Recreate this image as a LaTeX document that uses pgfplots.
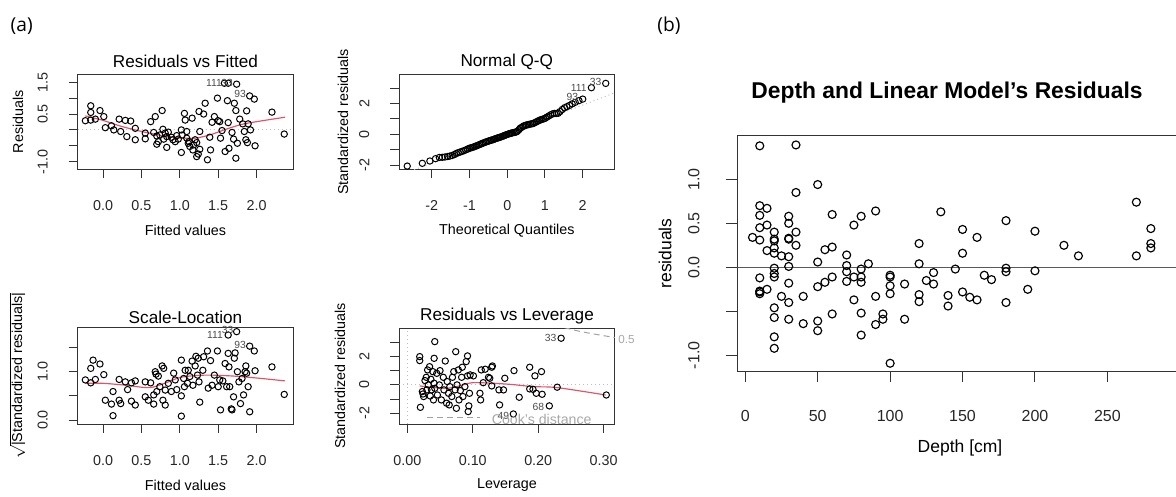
\documentclass[border=0pt]{standalone}
\usepackage{fontspec}
\setmainfont{Liberation Sans}
\newfontfamily\labfont{Open Sans}
\usepackage{pgfplots}
\pgfplotsset{compat=1.18}
\definecolor{loess}{HTML}{DF536B}
\definecolor{rgray}{HTML}{BEBEBE}
\definecolor{lgray}{HTML}{A8A8A8}
\newcommand{\fs}[1]{\fontsize{#1}{#1}\selectfont}

\pgfplotsset{
  rplot/.style={
    scale only axis, anchor=south west,
    axis line style={black!80,line width=0.6pt},
    tick style={black!80,line width=0.6pt},
    tick align=outside, tick pos=left, major tick length=5.4pt,
    ticklabel style={font=\fs{8.6},text=black!85},
    scaled ticks=false,
  },
  smallticks/.style={
    xticklabel style={anchor=center,yshift=-16.4pt},
    yticklabel style={anchor=center,xshift=-15.6pt,rotate=90},
  },
  pts/.style={only marks, mark=o, mark size=1.9pt, black, mark options={line width=0.6pt}},
  redline/.style={no marks, loess, line width=0.7pt, smooth},
  dotline/.style={no marks, rgray, line width=0.6pt, dash pattern=on 0.6pt off 1.8pt},
}

\begin{document}
\begin{tikzpicture}
\useasboundingbox (0,0) rectangle (705.6pt,-297.6pt);

% Residuals vs Fitted
\begin{axis}[rplot, smallticks, at={(46.62pt,-101.58pt)}, width=129.36pt, height=57.18pt,
  xmin=-0.33, xmax=2.478, ymin=-1.24, ymax=1.76,
  xtick={0,0.5,1,1.5,2}, xticklabels={0.0,0.5,1.0,1.5,2.0},
  ytick={-1,-0.5,0,0.5,1,1.5}, yticklabels={-1.0,,,0.5,,1.5}]
\addplot[dotline] coordinates {(-0.33,0)(2.478,0)};
\addplot[redline] coordinates {(-0.23,0.44)(0.0,0.30)(0.2,0.14)(0.4,0.01)(0.6,-0.10)(0.8,-0.19)(1.0,-0.25)(1.2,-0.26)(1.4,-0.15)(1.6,0.02)(1.8,0.17)(2.0,0.26)(2.37,0.40)};
\addplot[pts] coordinates {
(-0.23,0.29)(-0.16,0.76)(-0.16,0.55)(-0.16,0.31)(-0.10,0.34)(-0.04,0.61)(0.01,0.42)(0.03,0.07)
(0.11,0.13)(0.14,0.0)(0.21,0.34)(0.23,-0.05)(0.29,0.30)(0.31,-0.21)(0.36,0.28)(0.42,0.05)
(0.42,-0.31)(0.55,-0.10)(0.55,-0.28)(0.62,0.26)(0.66,-0.08)(0.68,0.42)(0.70,-0.45)(0.72,-0.37)
(0.74,-0.16)(0.77,0.61)(0.78,0.02)(0.79,-0.29)(0.81,-0.10)(0.83,-0.55)(0.85,-0.07)(0.89,-0.23)
(0.94,-0.37)(0.96,-0.18)(1.02,0.0)(1.02,-0.71)(1.06,0.52)(1.07,0.31)(1.09,-0.26)(1.11,-0.42)
(1.13,-0.52)(1.16,0.37)(1.17,-0.63)(1.20,-0.31)(1.22,-0.84)(1.24,-0.76)(1.25,0.58)(1.26,-0.05)
(1.26,-0.61)(1.31,0.50)(1.33,0.84)(1.36,-0.94)(1.39,-0.23)(1.40,-0.63)(1.42,0.24)(1.45,0.42)
(1.49,1.00)(1.50,0.29)(1.52,0.26)(1.53,-0.26)(1.55,-0.02)(1.58,1.47)(1.59,-0.68)(1.62,0.92)
(1.63,1.47)(1.63,0.23)(1.64,-0.58)(1.68,-0.08)(1.70,-0.29)(1.71,0.84)(1.73,-0.89)(1.73,0.61)
(1.74,1.44)(1.75,-0.42)(1.78,0.34)(1.82,0.19)(1.84,-0.05)(1.86,-0.31)(1.87,0.60)(1.88,-0.40)
(1.89,0.19)(1.91,1.07)(1.92,0.0)(1.97,0.97)(1.98,-0.50)(2.20,0.56)(2.36,-0.13)
(0.70,-0.19)(0.83,-0.21)(0.91,-0.31)(0.98,-0.29)(1.03,-0.16)(1.09,-0.05)(1.12,-0.37)(1.18,-0.47)(1.22,-0.40)};
\end{axis}

% Normal Q-Q
\begin{axis}[rplot, smallticks, at={(239.58pt,-101.58pt)}, width=129.3pt, height=57.18pt,
  xmin=-2.86, xmax=2.85, ymin=-2.27, ymax=3.92,
  xtick={-2,-1,0,1,2}, xticklabels={-2,-1,0,1,2},
  ytick={-2,-1,0,1,2,3}, yticklabels={-2,,0,,2,}]
\addplot[dotline] coordinates {(-2.86,-2.67)(2.85,2.70)};
\addplot[pts] coordinates {
(-2.65,-2.06)(-2.25,-1.88)(-2.05,-1.73)(-1.90,-1.58)(-1.80,-1.50)(-1.72,-1.49)(-1.65,-1.47)(-1.58,-1.44)
(-1.52,-1.41)(-1.46,-1.37)(-1.40,-1.31)(-1.35,-1.24)(-1.30,-1.19)(-1.25,-1.15)(-1.20,-1.11)(-1.15,-1.06)
(-1.10,-1.01)(-1.05,-0.96)(-1.01,-0.91)(-0.97,-0.88)(-0.93,-0.85)(-0.89,-0.82)(-0.85,-0.78)(-0.81,-0.74)
(-0.77,-0.70)(-0.73,-0.66)(-0.69,-0.62)(-0.66,-0.58)(-0.62,-0.55)(-0.58,-0.51)(-0.55,-0.48)(-0.51,-0.45)
(-0.48,-0.42)(-0.44,-0.39)(-0.41,-0.37)(-0.37,-0.34)(-0.34,-0.31)(-0.31,-0.28)(-0.27,-0.25)(-0.24,-0.22)
(-0.21,-0.20)(-0.18,-0.18)(-0.14,-0.14)(-0.11,-0.11)(-0.08,-0.08)(-0.05,-0.05)(-0.02,-0.02)(0.02,0.01)
(0.05,0.04)(0.08,0.06)(0.11,0.08)(0.14,0.10)(0.18,0.12)(0.21,0.14)(0.24,0.16)(0.27,0.20)
(0.31,0.30)(0.34,0.39)(0.37,0.44)(0.41,0.50)(0.44,0.55)(0.48,0.58)(0.51,0.61)(0.55,0.63)
(0.58,0.65)(0.62,0.67)(0.66,0.69)(0.69,0.71)(0.73,0.76)(0.77,0.81)(0.81,0.86)(0.85,0.91)
(0.89,0.95)(0.93,0.98)(0.97,1.01)(1.01,1.05)(1.05,1.12)(1.10,1.19)(1.15,1.27)(1.20,1.33)
(1.25,1.36)(1.30,1.36)(1.35,1.37)(1.40,1.48)(1.46,1.62)(1.52,1.73)(1.58,1.80)(1.65,1.88)
(1.72,1.98)(1.80,2.08)(1.90,2.19)(2.00,2.29)(2.23,3.03)(2.61,3.31)};
\end{axis}

% Scale-Location
\begin{axis}[rplot, smallticks, at={(46.62pt,-254.4pt)}, width=129.36pt, height=58.02pt,
  xmin=-0.33, xmax=2.478, ymin=-0.083, ymax=1.92,
  xtick={0,0.5,1,1.5,2}, xticklabels={0.0,0.5,1.0,1.5,2.0},
  ytick={0,0.5,1,1.5}, yticklabels={0.0,,1.0,}]
\addplot[redline] coordinates {(-0.23,0.76)(0.0,0.76)(0.3,0.72)(0.6,0.67)(0.8,0.76)(1.0,0.88)(1.2,0.92)(1.4,0.93)(1.7,0.91)(2.0,0.87)(2.37,0.81)};
\addplot[pts] coordinates {
(-0.23,0.83)(-0.16,1.07)(-0.16,0.77)(-0.13,1.24)(-0.10,0.84)(-0.04,1.16)(0.01,0.94)(0.03,0.41)
(0.11,0.33)(0.13,0.59)(0.13,0.09)(0.21,0.84)(0.21,0.41)(0.23,0.34)(0.29,0.79)(0.32,0.63)
(0.37,0.77)(0.37,0.39)(0.42,0.81)(0.42,0.31)(0.55,0.79)(0.55,0.48)(0.59,0.41)(0.62,0.77)
(0.66,0.52)(0.66,0.33)(0.68,1.00)(0.69,0.95)(0.70,0.59)(0.72,0.91)(0.74,0.69)(0.77,1.12)
(0.79,1.07)(0.78,0.41)(0.81,0.62)(0.81,0.31)(0.85,0.76)(0.89,0.59)(0.92,0.97)(0.94,0.83)
(0.96,0.63)(1.02,1.24)(1.02,0.50)(1.02,0.08)(1.05,0.86)(1.06,0.69)(1.07,1.03)(1.10,0.76)
(1.11,1.03)(1.13,0.90)(1.16,1.22)(1.17,0.72)(1.20,1.12)(1.21,1.32)(1.23,0.93)(1.24,1.28)
(1.25,0.79)(1.26,0.37)(1.30,1.03)(1.31,1.31)(1.36,1.43)(1.37,0.66)(1.40,1.23)(1.42,0.72)
(1.45,0.93)(1.49,1.43)(1.50,0.69)(1.52,0.83)(1.53,0.21)(1.56,0.81)(1.59,1.17)(1.61,0.69)
(1.63,1.76)(1.63,1.38)(1.64,1.10)(1.65,0.69)(1.67,0.23)(1.68,0.21)(1.70,0.48)(1.71,1.28)
(1.72,1.39)(1.74,1.83)(1.75,1.00)(1.77,0.79)(1.79,0.34)(1.81,0.86)(1.83,0.52)(1.85,1.00)
(1.86,1.12)(1.87,0.97)(1.89,0.69)(1.91,1.53)(1.91,0.17)(1.97,1.43)(1.98,1.02)(2.20,1.10)(2.36,0.53)};
\end{axis}

% Residuals vs Leverage
\begin{axis}[rplot, smallticks, at={(239.58pt,-254.4pt)}, width=129.3pt, height=57.42pt,
  xmin=-0.0122, xmax=0.317, ymin=-2.76, ymax=4.0,
  xtick={0,0.1,0.2,0.3}, xticklabels={0.00,0.10,0.20,0.30},
  ytick={-2,-1,0,1,2,3}, yticklabels={-2,,0,,2,}]
\addplot[dotline] coordinates {(-0.0122,0)(0.317,0)};
\addplot[dotline] coordinates {(0,-2.76)(0,4.0)};
\addplot[no marks, rgray!85!black, line width=0.6pt, dash pattern=on 3.6pt off 2.4pt, smooth] coordinates {(0.24,4.05)(0.26,3.82)(0.28,3.64)(0.30,3.48)(0.317,3.35)};
\addplot[redline] coordinates {(0.019,-0.07)(0.04,-0.18)(0.06,-0.24)(0.075,-0.12)(0.085,0.0)(0.10,0.16)(0.131,0.12)(0.16,0.03)(0.192,-0.12)(0.229,-0.19)(0.303,-0.71)};
\addplot[pts] coordinates {
(0.019,2.00)(0.019,1.72)(0.020,-1.58)(0.023,-0.47)(0.024,-0.64)(0.025,-0.82)(0.027,0.31)(0.029,0.54)
(0.030,-0.35)(0.031,1.06)(0.032,0.00)(0.034,1.29)(0.035,-0.78)(0.036,0.40)(0.037,-0.35)(0.039,0.94)
(0.040,-1.06)(0.041,1.88)(0.041,0.12)(0.042,3.06)(0.042,-0.24)(0.045,0.82)(0.046,-0.71)(0.049,0.00)
(0.050,1.01)(0.052,-1.06)(0.055,0.54)(0.056,-0.35)(0.058,1.69)(0.060,-1.29)(0.061,0.24)(0.063,-0.59)
(0.064,-1.41)(0.065,-0.12)(0.068,-0.82)(0.069,0.54)(0.071,0.94)(0.073,-0.35)(0.074,2.35)(0.075,-1.65)
(0.076,0.00)(0.078,1.06)(0.079,-1.06)(0.081,-0.40)(0.083,0.54)(0.084,1.25)(0.085,-0.82)(0.088,-0.12)
(0.090,1.65)(0.092,2.05)(0.092,0.64)(0.093,-1.88)(0.094,-1.48)(0.095,-0.59)(0.096,0.71)(0.101,0.64)
(0.111,-0.59)(0.112,-1.06)(0.113,1.06)(0.116,0.16)(0.119,1.11)(0.124,0.54)(0.126,0.47)(0.129,1.25)
(0.130,1.34)(0.129,-0.07)(0.140,-0.35)(0.141,-1.41)(0.147,-0.35)(0.149,0.47)(0.162,-2.05)(0.163,1.01)
(0.171,-0.87)(0.187,1.25)(0.187,-0.28)(0.192,-0.31)(0.195,0.64)(0.197,-0.59)(0.205,0.94)(0.206,-0.66)
(0.217,-1.48)(0.229,-0.16)(0.235,3.30)(0.304,-0.71)};
\end{axis}

% Depth vs residuals
\begin{axis}[rplot, at={(442.38pt,-222.6pt)}, width=267.24pt, height=141.18pt,
  xmin=-5.5, xmax=302, ymin=-1.178, ymax=1.495,
  major tick length=6.6pt, ticklabel style={font=\fs{9.6}},
  xticklabel style={anchor=center,yshift=-20.4pt},
  yticklabel style={anchor=center,xshift=-19.4pt,rotate=90},
  xtick={0,50,100,150,200,250}, xticklabels={0,50,100,150,200,250},
  ytick={-1,-0.5,0,0.5,1}, yticklabels={-1.0,,0.0,0.5,1.0}]
\addplot[no marks, black!65, line width=0.8pt] coordinates {(-5.5,0)(302,0)};
\addplot[only marks, mark=o, mark size=2.4pt, black, mark options={line width=0.7pt}] coordinates {
(10,1.38)(35,1.39)(50,0.94)(35,0.85)(10,0.70)(15,0.67)(10,0.59)(30,0.58)(30,0.50)(10,0.45)
(15,0.48)(20,0.40)(35,0.40)(5,0.34)(10,0.31)(20,0.32)(20,0.30)(30,0.33)(30,0.32)(35,0.25)
(15,0.19)(20,0.22)(20,0.16)(25,0.13)(30,0.12)(30,0.01)(20,-0.01)(20,-0.07)(20,-0.11)(10,-0.12)
(30,-0.18)(15,-0.25)(10,-0.27)(10,-0.28)(10,-0.30)(25,-0.33)(30,-0.40)(40,-0.33)(20,-0.46)(20,-0.57)
(30,-0.59)(40,-0.64)(50,-0.61)(50,-0.72)(20,-0.79)(20,-0.92)(50,0.06)(50,-0.22)(55,0.20)(60,0.23)
(60,0.60)(55,-0.17)(60,-0.11)(60,-0.53)(70,0.14)(70,0.02)(70,-0.05)(70,-0.16)(75,0.48)(75,-0.11)
(75,-0.37)(80,0.58)(80,-0.02)(80,-0.11)(80,-0.17)(80,-0.52)(80,-0.77)(85,0.04)(90,0.64)(90,-0.33)
(90,-0.65)(95,-0.53)(95,-0.59)(100,-0.09)(100,-0.11)(100,-0.21)(100,-0.30)(100,-1.09)(110,-0.19)(110,-0.59)
(120,0.27)(120,0.04)(120,-0.31)(120,-0.39)(125,-0.15)(130,-0.06)(130,-0.19)(135,0.63)(140,-0.32)(140,-0.44)
(145,-0.02)(150,0.43)(150,0.16)(150,-0.28)(155,-0.34)(160,0.34)(160,-0.37)(165,-0.09)(170,-0.14)(180,0.53)
(180,-0.01)(180,-0.05)(180,-0.40)(195,-0.25)(200,0.41)(200,-0.04)(220,0.25)(230,0.13)(270,0.74)(270,0.13)
(280,0.44)(280,0.27)(280,0.22)};
\end{axis}

\begin{scope}[x=0.6pt,y=-0.6pt]
\node[font=\labfont\fs{11.5}] at (21.7,25.8) {(a)};
\node[font=\labfont\fs{11.5}] at (669,25.8) {(b)};
% titles
\node[font=\fs{10.3}] at (185.5,61.7) {Residuals vs Fitted};
\node[font=\fs{10.3}] at (506.8,61.7) {Normal Q-Q};
\node[font=\fs{10.3}] at (185.5,317.5) {Scale-Location};
\node[font=\fs{10.3}] at (507,315.7) {Residuals vs Leverage};
% axis labels
\node[font=\fs{8.6}] at (185.5,230.3) {Fitted values};
\node[font=\fs{8.6}] at (506.8,230.3) {Theoretical Quantiles};
\node[font=\fs{8.6}] at (185.5,485) {Fitted values};
\node[font=\fs{8.6}] at (507,485) {Leverage};
\node[font=\fs{8.6},rotate=90] at (18,121.7) {Residuals};
\node[font=\fs{8.6},rotate=90] at (343,121.7) {Standardized residuals};
\node[font=\fs{8.6},rotate=90] at (17.5,375.7) {$\sqrt{\hbox{\fs{8.6}|Standardized residuals|}}$};
\node[font=\fs{8.6},rotate=90] at (340,376) {Standardized residuals};
% point labels
\node[font=\fs{6.2},text=black!70] at (214,83.3) {111};
\node[font=\fs{6.2},text=black!70] at (227,83.3) {33};
\node[font=\fs{6.2},text=black!70] at (240,94.3) {93};
\node[font=\fs{6.2},text=black!70] at (578.7,87.7) {111};
\node[font=\fs{6.2},text=black!70] at (595.7,81.7) {33};
\node[font=\fs{6.2},text=black!70] at (572.3,96.7) {93};
\node[font=\fs{6.2},text=black!70] at (215,335) {111};
\node[font=\fs{6.2},text=black!70] at (227.7,330) {33};
\node[font=\fs{6.2},text=black!70] at (240,345) {93};
\node[font=\fs{6.2},text=black!70] at (550.7,337.7) {33};
\node[font=\fs{6.2},text=black!70] at (503.3,416) {49};
\node[font=\fs{6.2},text=black!70] at (538.3,406.7) {68};
% Cook's distance legend
\draw[rgray!85!black, line width=0.6pt, dash pattern=on 3.6pt off 2.4pt] (427.3,417.3) -- (480,417.3);
\node[font=\fs{8.5},text=lgray] at (541.7,419.3) {Cook's distance};
\node[font=\fs{7},text=lgray] at (626.5,339) {0.5};
% panel b text
\node[font=\bfseries\fs{13.7}] at (947,93) {Depth and Linear Model's Residuals};
\node[font=\fs{10.5},rotate=90] at (665,253.4) {residuals};
\node[font=\fs{10.5}] at (960,448.3) {Depth [cm]};
\end{scope}
\end{tikzpicture}
\end{document}
